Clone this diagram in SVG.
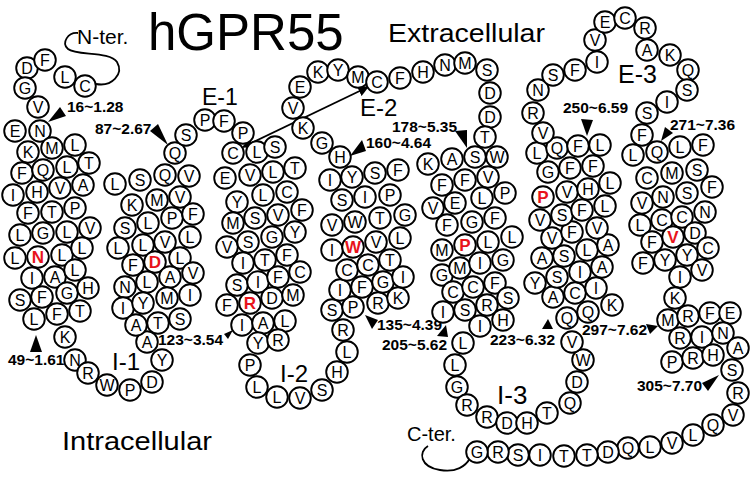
<svg xmlns="http://www.w3.org/2000/svg" width="754" height="479" viewBox="0 0 754 479">
<style>
.res circle{fill:#fff;stroke:#000;stroke-width:1.9}
.res text{font-family:"Liberation Sans",Arial,sans-serif;font-size:16px;text-anchor:middle;fill:#000}
.res .hl text{fill:#e8131b;font-weight:bold;font-size:17px}
.lbl{font-family:"Liberation Sans",Arial,sans-serif;font-weight:bold;font-size:15.5px;fill:#000}
.big{font-family:"Liberation Sans",Arial,sans-serif;fill:#000}
.tri{fill:#000}
.con{fill:none;stroke:#000;stroke-width:1.8}
</style>
<defs>
<marker id="ah" viewBox="0 0 10 10" refX="9" refY="5" markerWidth="6" markerHeight="6" orient="auto-start-reverse"><path d="M0,0 L10,5 L0,10 z" fill="#000"/></marker>
</defs>
<rect width="754" height="479" fill="#fff"/>
<text class="big" x="148" y="50" font-size="51">hGPR55</text>
<text class="big" x="388" y="42" font-size="26" textLength="157" lengthAdjust="spacingAndGlyphs">Extracellular</text>
<text class="big" x="62" y="450" font-size="26" textLength="150" lengthAdjust="spacingAndGlyphs">Intracellular</text>
<text class="big" x="77" y="44" font-size="21">N-ter.</text>
<text class="big" x="407" y="441" font-size="20">C-ter.</text>
<text class="big" x="202" y="105" font-size="23">E-1</text>
<text class="big" x="360" y="116" font-size="24">E-2</text>
<text class="big" x="618" y="83" font-size="25">E-3</text>
<text class="big" x="112" y="370" font-size="24">I-1</text>
<text class="big" x="280" y="382" font-size="24">I-2</text>
<text class="big" x="497" y="404" font-size="26">I-3</text>
<g id="connectors">
<path class="con" d="M78,33 C68,32 61,43 68,49 C76,56 110,51 117,62 C124,74 112,87 96,84"/>
<path class="con" d="M428,446 C418,452 420,467 440,470 C456,473 466,466 470,458"/>
<line class="con" x1="243" y1="147" x2="368" y2="87" stroke-width="1.5" marker-start="url(#ah)" marker-end="url(#ah)"/>
</g>
<g id="labels">
<text class="lbl" x="67" y="112">16~1.28</text><polygon class="tri" points="48,122 60,107 66,116"/>
<text class="lbl" x="95" y="134">87~2.67</text><polygon class="tri" points="150,131 158,124 168,145"/>
<text class="lbl" x="366" y="148">160~4.64</text><polygon class="tri" points="350,156 362,140 366,151"/>
<text class="lbl" x="392" y="132">178~5.35</text><polygon class="tri" points="455,131 467,130 467,148"/>
<text class="lbl" x="563" y="113">250~6.59</text><polygon class="tri" points="581,119 593,120 587,136"/>
<text class="lbl" x="670" y="130">271~7.36</text><polygon class="tri" points="665,127 673,133 661,141"/>
<text class="lbl" x="8" y="365">49~1.61</text><polygon class="tri" points="36,335 30,352 42,352"/>
<text class="lbl" x="158" y="345">123~3.54</text><polygon class="tri" points="224,334 233,330 228,339"/>
<text class="lbl" x="377" y="330">135~4.39</text><polygon class="tri" points="365,315 378,320 372,329"/>
<text class="lbl" x="382" y="350">205~5.62</text><polygon class="tri" points="446,325 437,336 448,337"/>
<text class="lbl" x="490" y="345">223~6.32</text><polygon class="tri" points="548,319 542,329 553,329"/>
<text class="lbl" x="582" y="335">297~7.62</text><polygon class="tri" points="646,324 658,326 650,334"/>
<text class="lbl" x="637" y="391">305~7.70</text><polygon class="tri" points="702,383 719,375 708,391"/>
</g>
<g class="res" id="residues">
<g id="n1" transform="translate(27,68)"><circle r="10.8"/><text y="5.7">D</text></g>
<g id="n2" transform="translate(45,60)"><circle r="10.8"/><text y="5.7">F</text></g>
<g id="n3" transform="translate(65,77)"><circle r="10.8"/><text y="5.7">L</text></g>
<g id="n4" transform="translate(85,86)"><circle r="10.8"/><text y="5.7">C</text></g>
<g id="n5" transform="translate(25,88)"><circle r="10.8"/><text y="5.7">G</text></g>
<g id="n6" transform="translate(38,107)"><circle r="10.8"/><text y="5.7">V</text></g>
<g id="t1a" transform="translate(15,131)"><circle r="10.8"/><text y="5.7">E</text></g>
<g id="t1b" transform="translate(40,131)"><circle r="10.8"/><text y="5.7">N</text></g>
<g id="t1c" transform="translate(28,152)"><circle r="10.8"/><text y="5.7">K</text></g>
<g id="t1d" transform="translate(52,148)"><circle r="10.8"/><text y="5.7">M</text></g>
<g id="t1e" transform="translate(75,145)"><circle r="10.8"/><text y="5.7">L</text></g>
<g id="t1f" transform="translate(22,173)"><circle r="10.8"/><text y="5.7">F</text></g>
<g id="t1g" transform="translate(43,170)"><circle r="10.8"/><text y="5.7">Q</text></g>
<g id="t1h" transform="translate(67,167)"><circle r="10.8"/><text y="5.7">L</text></g>
<g id="t1i" transform="translate(89,163)"><circle r="10.8"/><text y="5.7">T</text></g>
<g id="t1j" transform="translate(13,195)"><circle r="10.8"/><text y="5.7">I</text></g>
<g id="t1k" transform="translate(37,192)"><circle r="10.8"/><text y="5.7">H</text></g>
<g id="t1l" transform="translate(60,188)"><circle r="10.8"/><text y="5.7">V</text></g>
<g id="t1m" transform="translate(83,185)"><circle r="10.8"/><text y="5.7">A</text></g>
<g id="t1n" transform="translate(28,213)"><circle r="10.8"/><text y="5.7">F</text></g>
<g id="t1o" transform="translate(52,212)"><circle r="10.8"/><text y="5.7">T</text></g>
<g id="t1p" transform="translate(75,208)"><circle r="10.8"/><text y="5.7">P</text></g>
<g id="t1q" transform="translate(20,235)"><circle r="10.8"/><text y="5.7">L</text></g>
<g id="t1r" transform="translate(43,233)"><circle r="10.8"/><text y="5.7">G</text></g>
<g id="t1s" transform="translate(67,232)"><circle r="10.8"/><text y="5.7">L</text></g>
<g id="t1t" transform="translate(90,228)"><circle r="10.8"/><text y="5.7">V</text></g>
<g id="t1u" transform="translate(15,258)"><circle r="10.8"/><text y="5.7">L</text></g>
<g id="t1v" class="hl" transform="translate(38,257)"><circle r="10.8"/><text y="5.7">N</text></g>
<g id="t1w" transform="translate(62,255)"><circle r="10.8"/><text y="5.7">L</text></g>
<g id="t1x" transform="translate(82,248)"><circle r="10.8"/><text y="5.7">L</text></g>
<g id="t1y" transform="translate(32,278)"><circle r="10.8"/><text y="5.7">I</text></g>
<g id="t1z" transform="translate(55,277)"><circle r="10.8"/><text y="5.7">A</text></g>
<g id="t1aa" transform="translate(75,270)"><circle r="10.8"/><text y="5.7">L</text></g>
<g id="t1ab" transform="translate(20,300)"><circle r="10.8"/><text y="5.7">S</text></g>
<g id="t1ac" transform="translate(42,297)"><circle r="10.8"/><text y="5.7">F</text></g>
<g id="t1ad" transform="translate(67,293)"><circle r="10.8"/><text y="5.7">G</text></g>
<g id="t1ae" transform="translate(88,288)"><circle r="10.8"/><text y="5.7">H</text></g>
<g id="t1af" transform="translate(34,319)"><circle r="10.8"/><text y="5.7">L</text></g>
<g id="t1ag" transform="translate(57,314)"><circle r="10.8"/><text y="5.7">F</text></g>
<g id="t1ah" transform="translate(80,311)"><circle r="10.8"/><text y="5.7">T</text></g>
<g id="i1a" transform="translate(65,337)"><circle r="10.8"/><text y="5.7">K</text></g>
<g id="i1b" transform="translate(75,360)"><circle r="10.8"/><text y="5.7">N</text></g>
<g id="i1c" transform="translate(88,373)"><circle r="10.8"/><text y="5.7">R</text></g>
<g id="i1d" transform="translate(107,385)"><circle r="10.8"/><text y="5.7">W</text></g>
<g id="i1e" transform="translate(130,390)"><circle r="10.8"/><text y="5.7">P</text></g>
<g id="i1f" transform="translate(152,382)"><circle r="10.8"/><text y="5.7">D</text></g>
<g id="i1g" transform="translate(162,360)"><circle r="10.8"/><text y="5.7">Y</text></g>
<g id="i1h" transform="translate(147,342)"><circle r="10.8"/><text y="5.7">A</text></g>
<g id="t2a" transform="translate(115,184)"><circle r="10.8"/><text y="5.7">L</text></g>
<g id="t2b" transform="translate(140,180)"><circle r="10.8"/><text y="5.7">S</text></g>
<g id="t2c" transform="translate(165,175)"><circle r="10.8"/><text y="5.7">Q</text></g>
<g id="t2d" transform="translate(189,176)"><circle r="10.8"/><text y="5.7">V</text></g>
<g id="t2e" transform="translate(132,205)"><circle r="10.8"/><text y="5.7">K</text></g>
<g id="t2f" transform="translate(157,200)"><circle r="10.8"/><text y="5.7">M</text></g>
<g id="t2g" transform="translate(180,197)"><circle r="10.8"/><text y="5.7">V</text></g>
<g id="t2h" transform="translate(125,228)"><circle r="10.8"/><text y="5.7">S</text></g>
<g id="t2i" transform="translate(148,223)"><circle r="10.8"/><text y="5.7">L</text></g>
<g id="t2j" transform="translate(172,218)"><circle r="10.8"/><text y="5.7">P</text></g>
<g id="t2k" transform="translate(193,214)"><circle r="10.8"/><text y="5.7">F</text></g>
<g id="t2l" transform="translate(118,248)"><circle r="10.8"/><text y="5.7">L</text></g>
<g id="t2m" transform="translate(143,245)"><circle r="10.8"/><text y="5.7">L</text></g>
<g id="t2n" transform="translate(165,242)"><circle r="10.8"/><text y="5.7">V</text></g>
<g id="t2o" transform="translate(190,237)"><circle r="10.8"/><text y="5.7">L</text></g>
<g id="t2p" transform="translate(133,265)"><circle r="10.8"/><text y="5.7">F</text></g>
<g id="t2q" class="hl" transform="translate(155,262)"><circle r="10.8"/><text y="5.7">D</text></g>
<g id="t2r" transform="translate(180,258)"><circle r="10.8"/><text y="5.7">L</text></g>
<g id="t2s" transform="translate(125,287)"><circle r="10.8"/><text y="5.7">N</text></g>
<g id="t2t" transform="translate(147,282)"><circle r="10.8"/><text y="5.7">L</text></g>
<g id="t2u" transform="translate(170,277)"><circle r="10.8"/><text y="5.7">A</text></g>
<g id="t2v" transform="translate(193,273)"><circle r="10.8"/><text y="5.7">V</text></g>
<g id="t2w" transform="translate(123,308)"><circle r="10.8"/><text y="5.7">I</text></g>
<g id="t2x" transform="translate(143,303)"><circle r="10.8"/><text y="5.7">Y</text></g>
<g id="t2y" transform="translate(167,298)"><circle r="10.8"/><text y="5.7">M</text></g>
<g id="t2z" transform="translate(190,295)"><circle r="10.8"/><text y="5.7">I</text></g>
<g id="t2aa" transform="translate(136,325)"><circle r="10.8"/><text y="5.7">A</text></g>
<g id="t2ab" transform="translate(158,323)"><circle r="10.8"/><text y="5.7">T</text></g>
<g id="t2ac" transform="translate(180,319)"><circle r="10.8"/><text y="5.7">S</text></g>
<g id="e1a" transform="translate(175,153)"><circle r="10.8"/><text y="5.7">Q</text></g>
<g id="e1b" transform="translate(186,135)"><circle r="10.8"/><text y="5.7">S</text></g>
<g id="e1c" transform="translate(205,120)"><circle r="10.8"/><text y="5.7">P</text></g>
<g id="e1d" transform="translate(224,121)"><circle r="10.8"/><text y="5.7">F</text></g>
<g id="e1e" transform="translate(243,133)"><circle r="10.8"/><text y="5.7">P</text></g>
<g id="t3a" transform="translate(233,153)"><circle r="10.8"/><text y="5.7">C</text></g>
<g id="t3b" transform="translate(257,152)"><circle r="10.8"/><text y="5.7">L</text></g>
<g id="t3c" transform="translate(275,147)"><circle r="10.8"/><text y="5.7">S</text></g>
<g id="t3d" transform="translate(225,178)"><circle r="10.8"/><text y="5.7">E</text></g>
<g id="t3e" transform="translate(250,175)"><circle r="10.8"/><text y="5.7">V</text></g>
<g id="t3f" transform="translate(273,172)"><circle r="10.8"/><text y="5.7">L</text></g>
<g id="t3g" transform="translate(295,168)"><circle r="10.8"/><text y="5.7">T</text></g>
<g id="t3h" transform="translate(237,202)"><circle r="10.8"/><text y="5.7">Y</text></g>
<g id="t3i" transform="translate(263,195)"><circle r="10.8"/><text y="5.7">L</text></g>
<g id="t3j" transform="translate(287,192)"><circle r="10.8"/><text y="5.7">C</text></g>
<g id="t3k" transform="translate(233,223)"><circle r="10.8"/><text y="5.7">M</text></g>
<g id="t3l" transform="translate(255,218)"><circle r="10.8"/><text y="5.7">S</text></g>
<g id="t3m" transform="translate(278,215)"><circle r="10.8"/><text y="5.7">V</text></g>
<g id="t3n" transform="translate(302,210)"><circle r="10.8"/><text y="5.7">F</text></g>
<g id="t3o" transform="translate(227,247)"><circle r="10.8"/><text y="5.7">V</text></g>
<g id="t3p" transform="translate(248,242)"><circle r="10.8"/><text y="5.7">S</text></g>
<g id="t3q" transform="translate(272,237)"><circle r="10.8"/><text y="5.7">G</text></g>
<g id="t3r" transform="translate(295,232)"><circle r="10.8"/><text y="5.7">Y</text></g>
<g id="t3s" transform="translate(243,263)"><circle r="10.8"/><text y="5.7">I</text></g>
<g id="t3t" transform="translate(265,260)"><circle r="10.8"/><text y="5.7">T</text></g>
<g id="t3u" transform="translate(287,255)"><circle r="10.8"/><text y="5.7">F</text></g>
<g id="t3v" transform="translate(237,285)"><circle r="10.8"/><text y="5.7">S</text></g>
<g id="t3w" transform="translate(258,282)"><circle r="10.8"/><text y="5.7">I</text></g>
<g id="t3x" transform="translate(278,277)"><circle r="10.8"/><text y="5.7">F</text></g>
<g id="t3y" transform="translate(300,272)"><circle r="10.8"/><text y="5.7">C</text></g>
<g id="t3z" transform="translate(227,305)"><circle r="10.8"/><text y="5.7">F</text></g>
<g id="t3aa" class="hl" transform="translate(250,303)"><circle r="10.8"/><text y="5.7">R</text></g>
<g id="t3ab" transform="translate(272,298)"><circle r="10.8"/><text y="5.7">D</text></g>
<g id="t3ac" transform="translate(293,295)"><circle r="10.8"/><text y="5.7">M</text></g>
<g id="t3ad" transform="translate(242,325)"><circle r="10.8"/><text y="5.7">I</text></g>
<g id="t3ae" transform="translate(263,323)"><circle r="10.8"/><text y="5.7">A</text></g>
<g id="t3af" transform="translate(285,321)"><circle r="10.8"/><text y="5.7">L</text></g>
<g id="i2a" transform="translate(258,343)"><circle r="10.8"/><text y="5.7">Y</text></g>
<g id="i2b" transform="translate(278,340)"><circle r="10.8"/><text y="5.7">R</text></g>
<g id="i2c" transform="translate(250,365)"><circle r="10.8"/><text y="5.7">P</text></g>
<g id="i2d" transform="translate(257,387)"><circle r="10.8"/><text y="5.7">L</text></g>
<g id="i2e" transform="translate(277,397)"><circle r="10.8"/><text y="5.7">L</text></g>
<g id="i2f" transform="translate(300,398)"><circle r="10.8"/><text y="5.7">V</text></g>
<g id="i2g" transform="translate(322,390)"><circle r="10.8"/><text y="5.7">S</text></g>
<g id="i2h" transform="translate(337,372)"><circle r="10.8"/><text y="5.7">H</text></g>
<g id="i2i" transform="translate(347,352)"><circle r="10.8"/><text y="5.7">L</text></g>
<g id="i2j" transform="translate(343,330)"><circle r="10.8"/><text y="5.7">R</text></g>
<g id="t4a" transform="translate(332,310)"><circle r="10.8"/><text y="5.7">S</text></g>
<g id="t4b" transform="translate(353,307)"><circle r="10.8"/><text y="5.7">P</text></g>
<g id="t4c" transform="translate(378,303)"><circle r="10.8"/><text y="5.7">R</text></g>
<g id="t4d" transform="translate(398,298)"><circle r="10.8"/><text y="5.7">K</text></g>
<g id="t4e" transform="translate(340,290)"><circle r="10.8"/><text y="5.7">I</text></g>
<g id="t4f" transform="translate(362,287)"><circle r="10.8"/><text y="5.7">F</text></g>
<g id="t4g" transform="translate(383,282)"><circle r="10.8"/><text y="5.7">G</text></g>
<g id="t4h" transform="translate(403,277)"><circle r="10.8"/><text y="5.7">I</text></g>
<g id="t4i" transform="translate(347,270)"><circle r="10.8"/><text y="5.7">C</text></g>
<g id="t4j" transform="translate(368,265)"><circle r="10.8"/><text y="5.7">C</text></g>
<g id="t4k" transform="translate(390,260)"><circle r="10.8"/><text y="5.7">T</text></g>
<g id="t4l" transform="translate(332,250)"><circle r="10.8"/><text y="5.7">I</text></g>
<g id="t4m" class="hl" transform="translate(353,247)"><circle r="10.8"/><text y="5.7">W</text></g>
<g id="t4n" transform="translate(376,242)"><circle r="10.8"/><text y="5.7">V</text></g>
<g id="t4o" transform="translate(400,238)"><circle r="10.8"/><text y="5.7">L</text></g>
<g id="t4p" transform="translate(332,225)"><circle r="10.8"/><text y="5.7">V</text></g>
<g id="t4q" transform="translate(355,222)"><circle r="10.8"/><text y="5.7">W</text></g>
<g id="t4r" transform="translate(380,218)"><circle r="10.8"/><text y="5.7">T</text></g>
<g id="t4s" transform="translate(405,215)"><circle r="10.8"/><text y="5.7">G</text></g>
<g id="t4t" transform="translate(342,200)"><circle r="10.8"/><text y="5.7">S</text></g>
<g id="t4u" transform="translate(365,197)"><circle r="10.8"/><text y="5.7">I</text></g>
<g id="t4v" transform="translate(390,195)"><circle r="10.8"/><text y="5.7">P</text></g>
<g id="t4w" transform="translate(330,180)"><circle r="10.8"/><text y="5.7">I</text></g>
<g id="t4x" transform="translate(352,177)"><circle r="10.8"/><text y="5.7">Y</text></g>
<g id="t4y" transform="translate(375,173)"><circle r="10.8"/><text y="5.7">S</text></g>
<g id="t4z" transform="translate(398,170)"><circle r="10.8"/><text y="5.7">F</text></g>
<g id="t4aa" transform="translate(340,157)"><circle r="10.8"/><text y="5.7">H</text></g>
<g id="e2a" transform="translate(322,143)"><circle r="10.8"/><text y="5.7">G</text></g>
<g id="e2b" transform="translate(303,128)"><circle r="10.8"/><text y="5.7">K</text></g>
<g id="e2c" transform="translate(293,108)"><circle r="10.8"/><text y="5.7">V</text></g>
<g id="e2d" transform="translate(300,87)"><circle r="10.8"/><text y="5.7">E</text></g>
<g id="e2e" transform="translate(318,72)"><circle r="10.8"/><text y="5.7">K</text></g>
<g id="e2f" transform="translate(338,70)"><circle r="10.8"/><text y="5.7">Y</text></g>
<g id="e2g" transform="translate(358,77)"><circle r="10.8"/><text y="5.7">M</text></g>
<g id="e2h" transform="translate(377,82)"><circle r="10.8"/><text y="5.7">C</text></g>
<g id="e2i" transform="translate(400,78)"><circle r="10.8"/><text y="5.7">F</text></g>
<g id="e2j" transform="translate(423,72)"><circle r="10.8"/><text y="5.7">H</text></g>
<g id="e2k" transform="translate(445,65)"><circle r="10.8"/><text y="5.7">N</text></g>
<g id="e2l" transform="translate(465,63)"><circle r="10.8"/><text y="5.7">M</text></g>
<g id="e2m" transform="translate(487,70)"><circle r="10.8"/><text y="5.7">S</text></g>
<g id="e2n" transform="translate(490,93)"><circle r="10.8"/><text y="5.7">D</text></g>
<g id="e2o" transform="translate(490,117)"><circle r="10.8"/><text y="5.7">D</text></g>
<g id="e2p" transform="translate(485,137)"><circle r="10.8"/><text y="5.7">T</text></g>
<g id="t5a" transform="translate(497,157)"><circle r="10.8"/><text y="5.7">W</text></g>
<g id="t5b" transform="translate(475,157)"><circle r="10.8"/><text y="5.7">S</text></g>
<g id="t5c" transform="translate(452,159)"><circle r="10.8"/><text y="5.7">A</text></g>
<g id="t5d" transform="translate(428,164)"><circle r="10.8"/><text y="5.7">K</text></g>
<g id="t5e" transform="translate(442,185)"><circle r="10.8"/><text y="5.7">F</text></g>
<g id="t5f" transform="translate(465,180)"><circle r="10.8"/><text y="5.7">F</text></g>
<g id="t5g" transform="translate(488,177)"><circle r="10.8"/><text y="5.7">V</text></g>
<g id="t5h" transform="translate(433,208)"><circle r="10.8"/><text y="5.7">V</text></g>
<g id="t5i" transform="translate(455,203)"><circle r="10.8"/><text y="5.7">E</text></g>
<g id="t5j" transform="translate(482,198)"><circle r="10.8"/><text y="5.7">L</text></g>
<g id="t5k" transform="translate(505,193)"><circle r="10.8"/><text y="5.7">P</text></g>
<g id="t5l" transform="translate(447,225)"><circle r="10.8"/><text y="5.7">F</text></g>
<g id="t5m" transform="translate(472,222)"><circle r="10.8"/><text y="5.7">G</text></g>
<g id="t5n" transform="translate(495,218)"><circle r="10.8"/><text y="5.7">F</text></g>
<g id="t5o" transform="translate(442,250)"><circle r="10.8"/><text y="5.7">M</text></g>
<g id="t5p" class="hl" transform="translate(465,245)"><circle r="10.8"/><text y="5.7">P</text></g>
<g id="t5q" transform="translate(488,242)"><circle r="10.8"/><text y="5.7">L</text></g>
<g id="t5r" transform="translate(512,237)"><circle r="10.8"/><text y="5.7">L</text></g>
<g id="t5s" transform="translate(442,275)"><circle r="10.8"/><text y="5.7">G</text></g>
<g id="t5t" transform="translate(460,268)"><circle r="10.8"/><text y="5.7">M</text></g>
<g id="t5u" transform="translate(480,263)"><circle r="10.8"/><text y="5.7">I</text></g>
<g id="t5v" transform="translate(503,260)"><circle r="10.8"/><text y="5.7">G</text></g>
<g id="t5w" transform="translate(453,292)"><circle r="10.8"/><text y="5.7">C</text></g>
<g id="t5x" transform="translate(473,287)"><circle r="10.8"/><text y="5.7">C</text></g>
<g id="t5y" transform="translate(495,283)"><circle r="10.8"/><text y="5.7">F</text></g>
<g id="t5z" transform="translate(443,312)"><circle r="10.8"/><text y="5.7">I</text></g>
<g id="t5aa" transform="translate(465,310)"><circle r="10.8"/><text y="5.7">S</text></g>
<g id="t5ab" transform="translate(487,305)"><circle r="10.8"/><text y="5.7">R</text></g>
<g id="t5ac" transform="translate(508,298)"><circle r="10.8"/><text y="5.7">S</text></g>
<g id="i3a" transform="translate(480,326)"><circle r="10.8"/><text y="5.7">I</text></g>
<g id="i3b" transform="translate(503,320)"><circle r="10.8"/><text y="5.7">H</text></g>
<g id="i3c" transform="translate(463,343)"><circle r="10.8"/><text y="5.7">L</text></g>
<g id="i3d" transform="translate(455,365)"><circle r="10.8"/><text y="5.7">L</text></g>
<g id="i3e" transform="translate(457,387)"><circle r="10.8"/><text y="5.7">G</text></g>
<g id="i3f" transform="translate(467,405)"><circle r="10.8"/><text y="5.7">R</text></g>
<g id="i3g" transform="translate(487,417)"><circle r="10.8"/><text y="5.7">R</text></g>
<g id="i3h" transform="translate(507,423)"><circle r="10.8"/><text y="5.7">D</text></g>
<g id="i3i" transform="translate(527,423)"><circle r="10.8"/><text y="5.7">H</text></g>
<g id="i3j" transform="translate(547,413)"><circle r="10.8"/><text y="5.7">T</text></g>
<g id="i3k" transform="translate(570,403)"><circle r="10.8"/><text y="5.7">Q</text></g>
<g id="i3l" transform="translate(577,382)"><circle r="10.8"/><text y="5.7">D</text></g>
<g id="i3m" transform="translate(583,360)"><circle r="10.8"/><text y="5.7">W</text></g>
<g id="i3n" transform="translate(572,342)"><circle r="10.8"/><text y="5.7">V</text></g>
<g id="t6a" transform="translate(567,318)"><circle r="10.8"/><text y="5.7">Q</text></g>
<g id="t6b" transform="translate(588,312)"><circle r="10.8"/><text y="5.7">Q</text></g>
<g id="t6c" transform="translate(612,305)"><circle r="10.8"/><text y="5.7">K</text></g>
<g id="t6d" transform="translate(553,297)"><circle r="10.8"/><text y="5.7">A</text></g>
<g id="t6e" transform="translate(575,293)"><circle r="10.8"/><text y="5.7">C</text></g>
<g id="t6f" transform="translate(596,288)"><circle r="10.8"/><text y="5.7">I</text></g>
<g id="t6g" transform="translate(535,283)"><circle r="10.8"/><text y="5.7">Y</text></g>
<g id="t6h" transform="translate(557,277)"><circle r="10.8"/><text y="5.7">S</text></g>
<g id="t6i" transform="translate(580,272)"><circle r="10.8"/><text y="5.7">I</text></g>
<g id="t6j" transform="translate(602,267)"><circle r="10.8"/><text y="5.7">A</text></g>
<g id="t6k" transform="translate(542,258)"><circle r="10.8"/><text y="5.7">A</text></g>
<g id="t6l" transform="translate(564,256)"><circle r="10.8"/><text y="5.7">S</text></g>
<g id="t6m" transform="translate(587,250)"><circle r="10.8"/><text y="5.7">L</text></g>
<g id="t6n" transform="translate(608,245)"><circle r="10.8"/><text y="5.7">A</text></g>
<g id="t6o" transform="translate(552,238)"><circle r="10.8"/><text y="5.7">V</text></g>
<g id="t6p" transform="translate(572,232)"><circle r="10.8"/><text y="5.7">F</text></g>
<g id="t6q" transform="translate(597,228)"><circle r="10.8"/><text y="5.7">V</text></g>
<g id="t6r" transform="translate(540,220)"><circle r="10.8"/><text y="5.7">V</text></g>
<g id="t6s" transform="translate(562,215)"><circle r="10.8"/><text y="5.7">S</text></g>
<g id="t6t" transform="translate(582,210)"><circle r="10.8"/><text y="5.7">F</text></g>
<g id="t6u" transform="translate(605,206)"><circle r="10.8"/><text y="5.7">L</text></g>
<g id="t6v" class="hl" transform="translate(543,197)"><circle r="10.8"/><text y="5.7">P</text></g>
<g id="t6w" transform="translate(567,192)"><circle r="10.8"/><text y="5.7">V</text></g>
<g id="t6x" transform="translate(588,189)"><circle r="10.8"/><text y="5.7">H</text></g>
<g id="t6y" transform="translate(610,183)"><circle r="10.8"/><text y="5.7">L</text></g>
<g id="t6z" transform="translate(548,172)"><circle r="10.8"/><text y="5.7">G</text></g>
<g id="t6aa" transform="translate(570,168)"><circle r="10.8"/><text y="5.7">F</text></g>
<g id="t6ab" transform="translate(593,166)"><circle r="10.8"/><text y="5.7">F</text></g>
<g id="t6ac" transform="translate(537,153)"><circle r="10.8"/><text y="5.7">L</text></g>
<g id="t6ad" transform="translate(557,148)"><circle r="10.8"/><text y="5.7">Q</text></g>
<g id="t6ae" transform="translate(578,146)"><circle r="10.8"/><text y="5.7">F</text></g>
<g id="t6af" transform="translate(600,145)"><circle r="10.8"/><text y="5.7">L</text></g>
<g id="e3a" transform="translate(543,133)"><circle r="10.8"/><text y="5.7">V</text></g>
<g id="e3b" transform="translate(533,113)"><circle r="10.8"/><text y="5.7">R</text></g>
<g id="e3c" transform="translate(538,90)"><circle r="10.8"/><text y="5.7">N</text></g>
<g id="e3d" transform="translate(553,75)"><circle r="10.8"/><text y="5.7">S</text></g>
<g id="e3e" transform="translate(575,70)"><circle r="10.8"/><text y="5.7">F</text></g>
<g id="e3f" transform="translate(597,62)"><circle r="10.8"/><text y="5.7">I</text></g>
<g id="e3g" transform="translate(595,40)"><circle r="10.8"/><text y="5.7">V</text></g>
<g id="e3h" transform="translate(605,22)"><circle r="10.8"/><text y="5.7">E</text></g>
<g id="e3i" transform="translate(625,18)"><circle r="10.8"/><text y="5.7">C</text></g>
<g id="e3j" transform="translate(645,28)"><circle r="10.8"/><text y="5.7">R</text></g>
<g id="e3k" transform="translate(647,50)"><circle r="10.8"/><text y="5.7">A</text></g>
<g id="e3l" transform="translate(670,55)"><circle r="10.8"/><text y="5.7">K</text></g>
<g id="e3m" transform="translate(688,70)"><circle r="10.8"/><text y="5.7">Q</text></g>
<g id="e3n" transform="translate(687,90)"><circle r="10.8"/><text y="5.7">S</text></g>
<g id="e3o" transform="translate(667,102)"><circle r="10.8"/><text y="5.7">I</text></g>
<g id="e3p" transform="translate(647,113)"><circle r="10.8"/><text y="5.7">S</text></g>
<g id="e3q" transform="translate(642,135)"><circle r="10.8"/><text y="5.7">F</text></g>
<g id="t7a" transform="translate(633,155)"><circle r="10.8"/><text y="5.7">L</text></g>
<g id="t7b" transform="translate(657,152)"><circle r="10.8"/><text y="5.7">Q</text></g>
<g id="t7c" transform="translate(680,147)"><circle r="10.8"/><text y="5.7">L</text></g>
<g id="t7d" transform="translate(703,145)"><circle r="10.8"/><text y="5.7">F</text></g>
<g id="t7e" transform="translate(647,178)"><circle r="10.8"/><text y="5.7">C</text></g>
<g id="t7f" transform="translate(672,173)"><circle r="10.8"/><text y="5.7">M</text></g>
<g id="t7g" transform="translate(697,170)"><circle r="10.8"/><text y="5.7">S</text></g>
<g id="t7h" transform="translate(642,203)"><circle r="10.8"/><text y="5.7">V</text></g>
<g id="t7i" transform="translate(663,197)"><circle r="10.8"/><text y="5.7">N</text></g>
<g id="t7j" transform="translate(687,193)"><circle r="10.8"/><text y="5.7">S</text></g>
<g id="t7k" transform="translate(712,187)"><circle r="10.8"/><text y="5.7">F</text></g>
<g id="t7l" transform="translate(640,225)"><circle r="10.8"/><text y="5.7">L</text></g>
<g id="t7m" transform="translate(662,220)"><circle r="10.8"/><text y="5.7">C</text></g>
<g id="t7n" transform="translate(682,217)"><circle r="10.8"/><text y="5.7">C</text></g>
<g id="t7o" transform="translate(705,212)"><circle r="10.8"/><text y="5.7">N</text></g>
<g id="t7p" transform="translate(652,242)"><circle r="10.8"/><text y="5.7">F</text></g>
<g id="t7q" class="hl" transform="translate(673,237)"><circle r="10.8"/><text y="5.7">V</text></g>
<g id="t7r" transform="translate(695,233)"><circle r="10.8"/><text y="5.7">D</text></g>
<g id="t7s" transform="translate(643,263)"><circle r="10.8"/><text y="5.7">F</text></g>
<g id="t7t" transform="translate(665,260)"><circle r="10.8"/><text y="5.7">Y</text></g>
<g id="t7u" transform="translate(687,255)"><circle r="10.8"/><text y="5.7">Y</text></g>
<g id="t7v" transform="translate(708,248)"><circle r="10.8"/><text y="5.7">C</text></g>
<g id="t7w" transform="translate(680,277)"><circle r="10.8"/><text y="5.7">I</text></g>
<g id="t7x" transform="translate(702,270)"><circle r="10.8"/><text y="5.7">V</text></g>
<g id="t7y" transform="translate(675,298)"><circle r="10.8"/><text y="5.7">K</text></g>
<g id="c1" transform="translate(668,320)"><circle r="10.8"/><text y="5.7">M</text></g>
<g id="c2" transform="translate(688,316)"><circle r="10.8"/><text y="5.7">R</text></g>
<g id="c3" transform="translate(710,313)"><circle r="10.8"/><text y="5.7">F</text></g>
<g id="c4" transform="translate(730,313)"><circle r="10.8"/><text y="5.7">E</text></g>
<g id="c5" transform="translate(680,338)"><circle r="10.8"/><text y="5.7">R</text></g>
<g id="c6" transform="translate(702,337)"><circle r="10.8"/><text y="5.7">I</text></g>
<g id="c7" transform="translate(723,333)"><circle r="10.8"/><text y="5.7">N</text></g>
<g id="c8" transform="translate(672,362)"><circle r="10.8"/><text y="5.7">P</text></g>
<g id="c9" transform="translate(693,358)"><circle r="10.8"/><text y="5.7">R</text></g>
<g id="c10" transform="translate(713,355)"><circle r="10.8"/><text y="5.7">H</text></g>
<g id="c11" transform="translate(738,348)"><circle r="10.8"/><text y="5.7">A</text></g>
<g id="c12" transform="translate(732,370)"><circle r="10.8"/><text y="5.7">S</text></g>
<g id="c13" transform="translate(738,393)"><circle r="10.8"/><text y="5.7">R</text></g>
<g id="c14" transform="translate(733,415)"><circle r="10.8"/><text y="5.7">V</text></g>
<g id="c15" transform="translate(713,425)"><circle r="10.8"/><text y="5.7">Q</text></g>
<g id="c16" transform="translate(693,435)"><circle r="10.8"/><text y="5.7">L</text></g>
<g id="c17" transform="translate(672,443)"><circle r="10.8"/><text y="5.7">V</text></g>
<g id="c18" transform="translate(650,447)"><circle r="10.8"/><text y="5.7">L</text></g>
<g id="c19" transform="translate(628,448)"><circle r="10.8"/><text y="5.7">Q</text></g>
<g id="c20" transform="translate(608,452)"><circle r="10.8"/><text y="5.7">D</text></g>
<g id="c21" transform="translate(587,455)"><circle r="10.8"/><text y="5.7">T</text></g>
<g id="c22" transform="translate(564,456)"><circle r="10.8"/><text y="5.7">T</text></g>
<g id="c23" transform="translate(540,455)"><circle r="10.8"/><text y="5.7">I</text></g>
<g id="c24" transform="translate(518,455)"><circle r="10.8"/><text y="5.7">S</text></g>
<g id="c25" transform="translate(498,452)"><circle r="10.8"/><text y="5.7">R</text></g>
<g id="c26" transform="translate(477,452)"><circle r="10.8"/><text y="5.7">G</text></g>
</g>
</svg>
